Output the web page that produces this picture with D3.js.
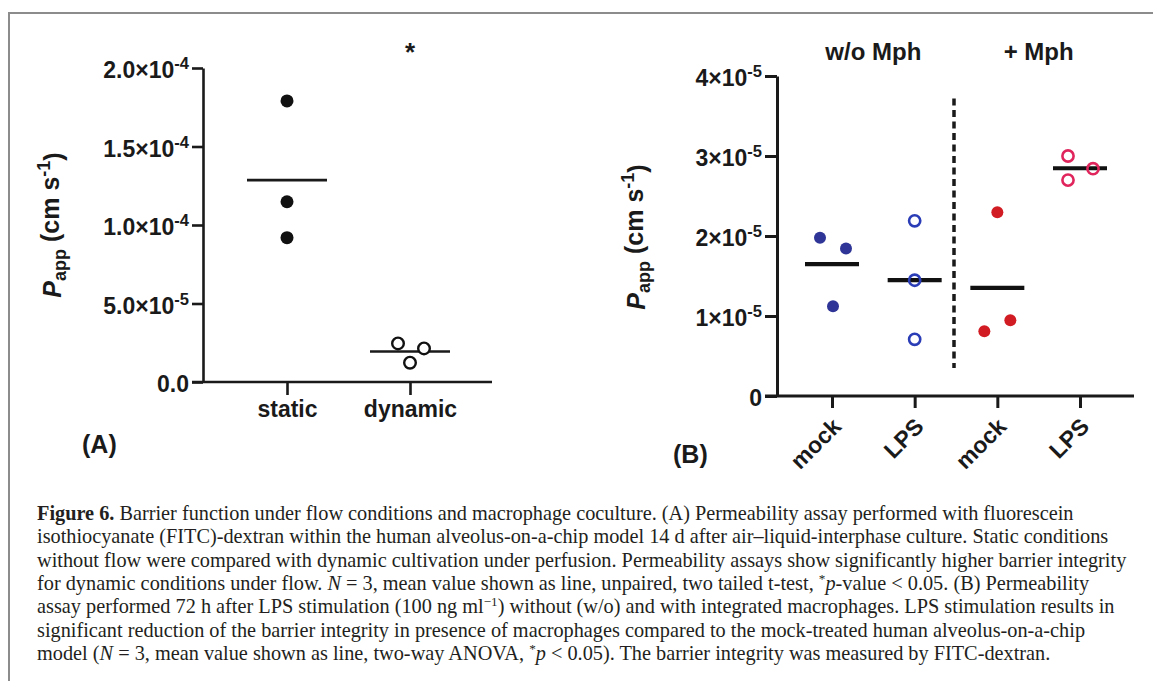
<!DOCTYPE html>
<html>
<head>
<meta charset="utf-8">
<script src="https://cdn.jsdelivr.net/npm/d3@7"></script>
<style>
  body { margin: 0; background: #fff; }
  svg { display: block; }
  .lbl { font-family: "Liberation Sans", Arial, sans-serif; font-weight: bold; fill: #1a1a1a; }
  .cap { font-family: "Liberation Serif", "Times New Roman", serif; fill: #231f20; }
</style>
</head>
<body>
<svg id="chart" width="1153" height="681"></svg>
<script>
// panel A
const catsA = ["static", "dynamic"];
const valsA = [
  [1.79e-4, 1.148e-4, 0.919e-4],
  [0.246e-4, 0.214e-4, 0.123e-4]
];
const ticksA = [0, 5e-5, 1e-4, 1.5e-4, 2e-4];

// panel B
const groupsB = ["w/o Mph", "+ Mph"];
const catsB = ["mock", "LPS", "mock", "LPS"];
const valsB = [
  [1.977e-5, 1.844e-5, 1.122e-5],
  [2.19e-5, 1.447e-5, 0.709e-5],
  [2.298e-5, 0.809e-5, 0.946e-5],
  [3.0e-5, 2.699e-5, 2.841e-5]
];
const ticksB = [0, 1e-5, 2e-5, 3e-5, 4e-5];

// caption, one entry per line, parts: [text, style]
const caption = [
  [["Figure 6.", "b"], [" Barrier function under flow conditions and macrophage coculture. (A) Permeability assay performed with fluorescein"]],
  [["isothiocyanate (FITC)-dextran within the human alveolus-on-a-chip model 14 d after air\u2013liquid-interphase culture. Static conditions"]],
  [["without flow were compared with dynamic cultivation under perfusion. Permeability assays show significantly higher barrier integrity"]],
  [["for dynamic conditions under flow. "], ["N", "i"], [" = 3, mean value shown as line, unpaired, two tailed t-test, "], ["*", "sup"], ["p", "i"], ["-value < 0.05. (B) Permeability"]],
  [["assay performed 72 h after LPS stimulation (100 ng ml"], ["\u22121", "sup"], [") without (w/o) and with integrated macrophages. LPS stimulation results in"]],
  [["significant reduction of the barrier integrity in presence of macrophages compared to the mock-treated human alveolus-on-a-chip"]],
  [["model ("], ["N", "i"], [" = 3, mean value shown as line, two-way ANOVA, "], ["*", "sup"], ["p", "i"], [" < 0.05). The barrier integrity was measured by FITC-dextran."]]
];

const svg = d3.select("#chart");

// frame
svg.append("path")
    .attr("d", "M9,690 L9,13 L1160,13")
    .attr("fill", "none")
    .attr("stroke", "#8c8c8c")
    .attr("stroke-width", 2);

// tick text like 2.0x10^-4
const sciTick = (sel, digits) => {
  sel.each(function(d) {
    const t = d3.select(this).text(null);
    if (d === 0) { t.text(digits ? (0).toFixed(digits) : "0"); return; }
    const e = Math.floor(Math.log10(d) + 1e-9);
    const m = d / Math.pow(10, e);
    t.append("tspan").text(m.toFixed(digits) + "\u00d710");
    t.append("tspan").attr("dy", "-0.55em").attr("font-size", "0.72em").text("-" + Math.abs(e));
  });
};

const yTitle = (cx, cy) => {
  const t = svg.append("text")
      .attr("class", "lbl")
      .attr("transform", `translate(${cx},${cy}) rotate(-90)`)
      .attr("text-anchor", "middle")
      .attr("font-size", 25);
  t.append("tspan").attr("font-style", "italic").text("P");
  t.append("tspan").attr("dy", "0.3em").attr("font-size", "0.72em").text("app");
  t.append("tspan").attr("dy", "-0.3em").text(" (cm s");
  t.append("tspan").attr("dy", "-0.5em").attr("font-size", "0.72em").text("-1");
  t.append("tspan").attr("dy", "0.5em").text(")");
};

// ---------- panel A ----------
const yA = d3.scaleLinear().domain([0, 2e-4]).range([382, 68]);
const xA = d3.scalePoint().domain(catsA).range([287, 410]);
const axA = 203;

const gyA = svg.append("g")
    .attr("transform", `translate(${axA},0)`)
    .call(d3.axisLeft(yA).tickValues(ticksA).tickSize(11).tickSizeOuter(0).tickPadding(3));
gyA.selectAll("text").attr("class", "lbl").attr("font-size", 23).attr("dy", "0.42em").call(sciTick, 1);

const gxA = svg.append("g")
    .attr("transform", `translate(0,${yA(0)})`)
    .call(d3.axisBottom(xA).tickSize(13).tickSizeOuter(0).tickPadding(6));
gxA.select(".domain").remove();
gxA.selectAll("text").attr("class", "lbl").attr("font-size", 23);
svg.append("line")
    .attr("x1", axA - 11).attr("x2", 492)
    .attr("y1", yA(0)).attr("y2", yA(0));

[gyA, gxA].forEach(g => g.selectAll("line, path").attr("stroke", "#1a1a1a").attr("stroke-width", 2.6));
svg.selectAll(":scope > line").attr("stroke", "#1a1a1a").attr("stroke-width", 2.6);

const jitterA = [[0, 0, 0], [-12, 14, 0]];
catsA.forEach((c, i) => {
  const m = d3.mean(valsA[i]);
  svg.append("line")
      .attr("x1", xA(c) - 40).attr("x2", xA(c) + 40)
      .attr("y1", yA(m)).attr("y2", yA(m))
      .attr("stroke", "#1a1a1a").attr("stroke-width", 2.6);
  svg.append("g").selectAll("circle")
    .data(valsA[i])
    .join("circle")
      .attr("cx", (d, j) => xA(c) + jitterA[i][j])
      .attr("cy", d => yA(d))
      .attr("r", i === 0 ? 6.5 : 5.8)
      .attr("fill", i === 0 ? "#111" : "#fff")
      .attr("stroke", "#111")
      .attr("stroke-width", i === 0 ? 0 : 2.4);
});

svg.append("text").attr("class", "lbl").attr("font-size", 26)
    .attr("x", xA("dynamic")).attr("y", 61).attr("text-anchor", "middle").text("*");
svg.append("text").attr("class", "lbl").attr("font-size", 25)
    .attr("x", 82).attr("y", 453).text("(A)");
yTitle(61, 225);

// ---------- panel B ----------
const yB = d3.scaleLinear().domain([0, 4e-5]).range([396, 76]);
const xB = d3.scalePoint().domain(d3.range(catsB.length)).range([832, 1080]);
const axB = 777;

const gyB = svg.append("g")
    .attr("transform", `translate(${axB},0)`)
    .call(d3.axisLeft(yB).tickValues(ticksB).tickSize(12).tickSizeOuter(0).tickPadding(3));
gyB.selectAll("text").attr("class", "lbl").attr("font-size", 23).attr("dy", "0.42em").call(sciTick, 0);

const gxB = svg.append("g")
    .attr("transform", `translate(0,${yB(0)})`)
    .call(d3.axisBottom(xB).tickSize(12).tickSizeOuter(0).tickFormat(i => catsB[i]));
gxB.select(".domain").remove();
gxB.selectAll("text")
    .attr("class", "lbl").attr("font-size", 23)
    .attr("text-anchor", "end")
    .attr("dy", null).attr("y", null)
    .attr("transform", "translate(10,32) rotate(-45)");
const baseB = svg.append("line")
    .attr("x1", axB - 12).attr("x2", 1134)
    .attr("y1", yB(0)).attr("y2", yB(0));
[gyB, gxB].forEach(g => g.selectAll("line, path").attr("stroke", "#1a1a1a").attr("stroke-width", 3));
baseB.attr("stroke", "#1a1a1a").attr("stroke-width", 3);

// separator between groups
const sepX = (xB(1) + xB(2)) / 2 - 2;
svg.append("line")
    .attr("x1", sepX).attr("x2", sepX)
    .attr("y1", yB(3.72e-5)).attr("y2", yB(0.35e-5))
    .attr("stroke", "#1a1a1a").attr("stroke-width", 3.5)
    .attr("stroke-dasharray", "7,4.5");

groupsB.forEach((g, k) => {
  svg.append("text").attr("class", "lbl").attr("font-size", 24)
      .attr("x", (xB(2 * k) + xB(2 * k + 1)) / 2).attr("y", 60)
      .attr("text-anchor", "middle").text(g);
});

const colB = ["#2e3596", "#2b3db6", "#d21c24", "#e0245c"];
const filledB = [true, false, true, false];
const jitterB = [[-12, 14, 1], [0, 0, 0], [0, -13, 13], [-12, -12, 13]];
catsB.forEach((c, i) => {
  const m = d3.mean(valsB[i]);
  svg.append("line")
      .attr("x1", xB(i) - 27).attr("x2", xB(i) + 27)
      .attr("y1", yB(m)).attr("y2", yB(m))
      .attr("stroke", "#111").attr("stroke-width", 4.2);
  svg.append("g").selectAll("circle")
    .data(valsB[i])
    .join("circle")
      .attr("cx", (d, j) => xB(i) + jitterB[i][j])
      .attr("cy", d => yB(d))
      .attr("r", filledB[i] ? 6 : 5.6)
      .attr("fill", filledB[i] ? colB[i] : "none")
      .attr("stroke", colB[i])
      .attr("stroke-width", filledB[i] ? 0 : 2.6);
});

svg.append("text").attr("class", "lbl").attr("font-size", 25)
    .attr("x", 673).attr("y", 463).text("(B)");
yTitle(645, 237);

// ---------- caption ----------
const capG = svg.append("g").attr("class", "cap").attr("font-size", 20.3);
caption.forEach((parts, li) => {
  const t = capG.append("text").attr("x", 37).attr("y", 520 + li * 23.3);
  parts.forEach(([s, st]) => {
    const ts = t.append("tspan").text(s);
    if (st === "b") ts.attr("font-weight", "bold");
    if (st === "i") ts.attr("font-style", "italic");
    if (st === "sup") ts.attr("baseline-shift", "super").attr("font-size", "0.65em");
  });
});
</script>
</body>
</html>
